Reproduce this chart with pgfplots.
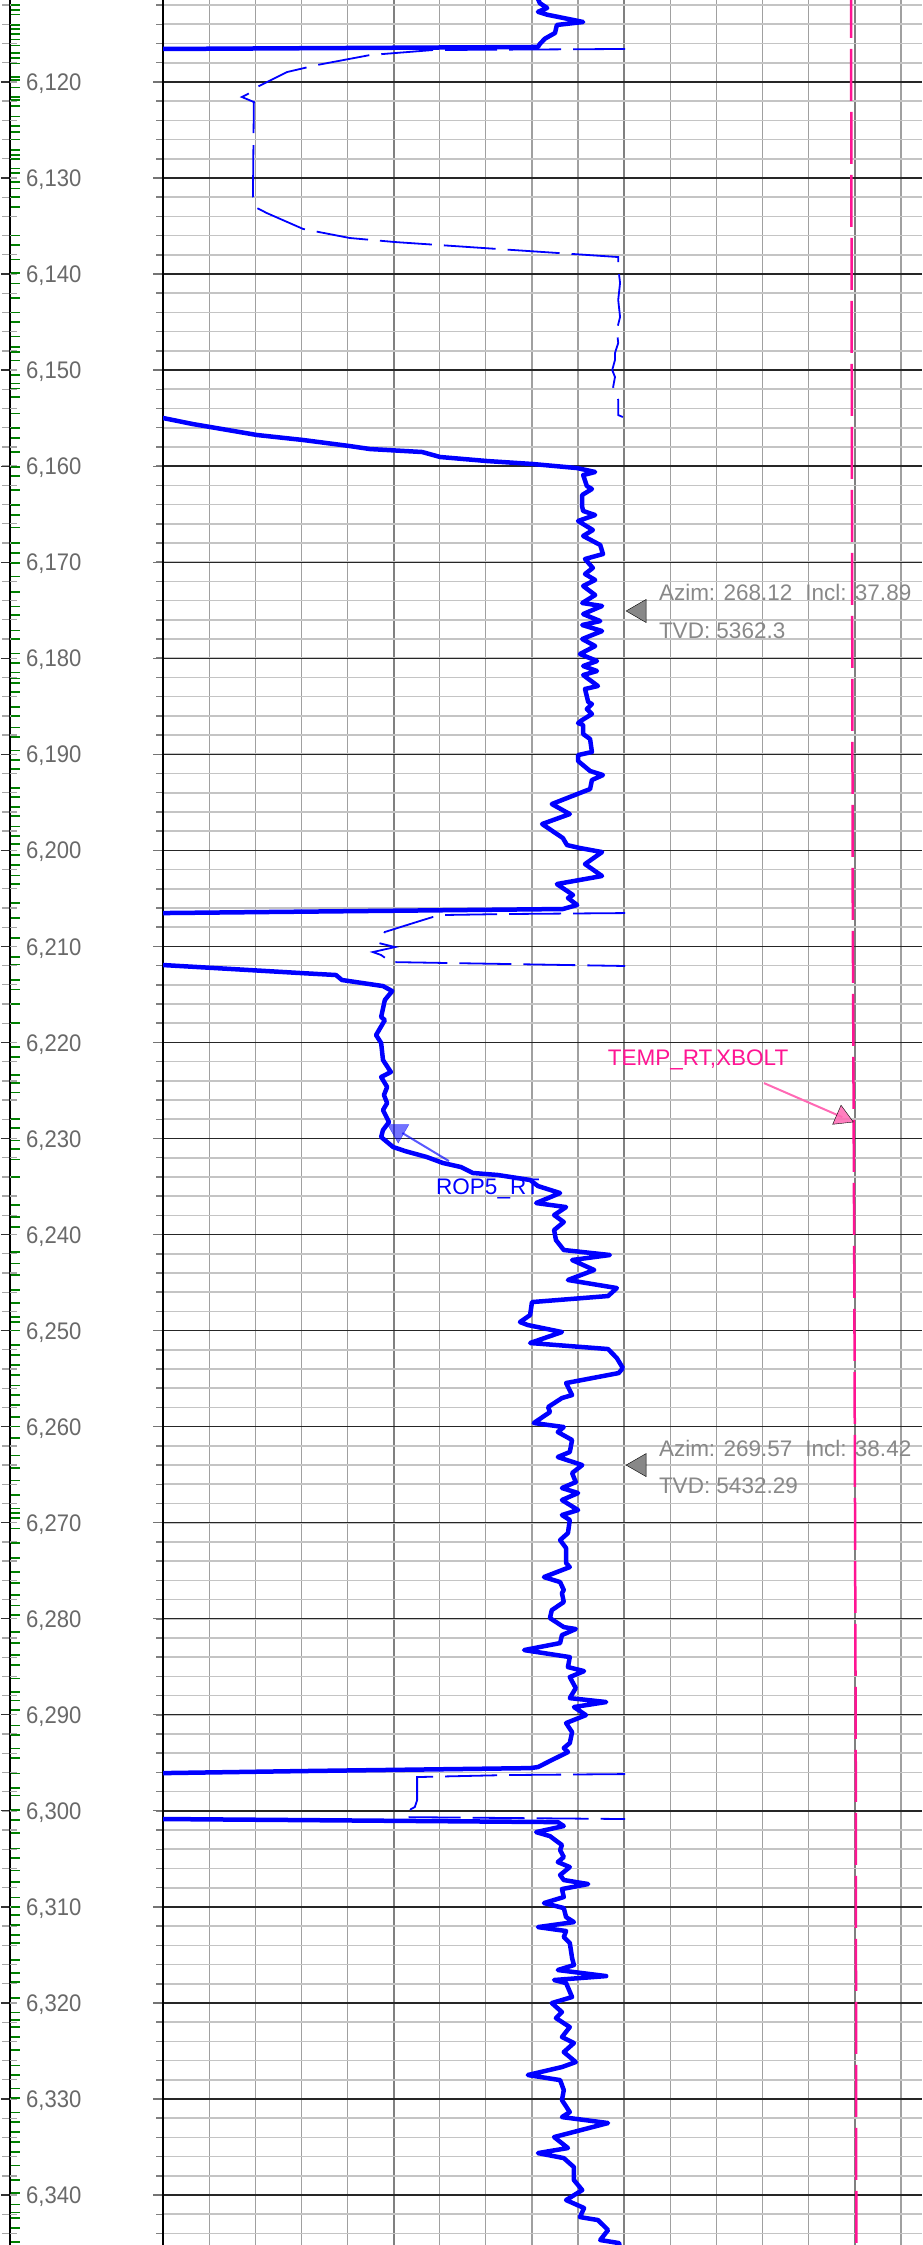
\documentclass[border=0pt]{standalone}
\usepackage{fontspec}
\setmainfont{Liberation Sans}
\newfontfamily\narrowfont[FakeStretch=0.92]{Liberation Sans}
\usepackage{pgfplots}
\pgfplotsset{compat=1.18}
\definecolor{logblue}{RGB}{0,0,255}
\definecolor{logpink}{RGB}{255,20,147}
\definecolor{lightpink}{RGB}{255,105,180}
\definecolor{annogray}{RGB}{136,136,136}
\definecolor{labelgray}{RGB}{105,105,105}
\definecolor{tickgreen}{RGB}{0,128,0}
\definecolor{minorh}{RGB}{196,196,196}
\definecolor{minorv}{RGB}{160,160,160}
\definecolor{majorv}{RGB}{128,128,128}
\pgfplotsset{
  logaxis/.style={scale only axis, height=2245pt, ymin=6111.47, ymax=6345.20,
    y dir=reverse, anchor=south west, scaled y ticks=false},
}
\newcommand{\annofont}{\fontsize{22.5}{27}\selectfont}
\begin{document}
\begin{tikzpicture}
\useasboundingbox (0,0) rectangle (922pt,2245pt);

% ---------- depth column: outer ticks and line ----------
\begin{axis}[logaxis, at={(10pt,0pt)}, width=153pt, xmin=0, xmax=1,
  axis x line=none, axis y line=left,
  y axis line style={black, line width=1.5pt, -},
  tick align=outside,
  ytick={6120,6130,...,6340}, minor ytick={6112,6114,...,6344}, yticklabels={},
  major tick length=9pt, minor tick length=8pt,
  major tick style={black!80, line width=1.2pt},
  minor tick style={black!35, line width=1.3pt}]
\end{axis}

% ---------- depth column: inner ticks and green data ticks ----------
\begin{axis}[logaxis, at={(10pt,0pt)}, width=153pt, xmin=10, xmax=163,
  axis x line=none, axis y line=left,
  y axis line style={draw=none},
  tick align=inside, clip=false,
  ytick={6112,6114,...,6344}, yticklabels={},
  major tick length=7pt,
  major tick style={black!35, line width=1.3pt}]
\addplot[only marks, mark=-, mark size=4.5pt, mark options={tickgreen, line width=1.6pt}]
  table[x expr=15.5, y index=0] {
d
6112.0
6112.5
6113.0
6114.1
6114.5
6115.0
6115.6
6116.2
6117.0
6117.5
6118.1
6119.5
6119.8
6120.6
6121.6
6121.9
6122.5
6123.6
6124.6
6125.2
6126.0
6127.1
6127.6
6128.0
6129.0
6129.5
6130.4
6131.1
6132.0
6133.0
6136.0
6137.0
6138.5
6139.9
6141.0
6142.5
6144.0
6145.0
6146.5
6147.6
6148.1
6149.0
6150.5
6151.4
6151.9
6152.8
6154.5
6156.0
6157.1
6158.5
6160.1
6161.0
6162.5
6164.05
6165.1
6166.4
6168.0
6169.05
6170.1
6171.5
6173.1
6174.6
6175.5
6177.1
6178.0
6179.5
6180.5
6181.5
6182.1
6182.6
6183.5
6185.1
6186.0
6187.2
6188.2
6189.6
6190.6
6191.5
6193.5
6194.45
6195.5
6196.4
6197.5
6198.5
6199.35
6200.5
6201.5
6202.6
6203.5
6205.5
6207.05
6209.1
6211.1
6211.9
6213.5
6214.5
6216.0
6218.0
6220.5
6221.5
6223.4
6224.2
6225.2
6228.0
6228.9
6230.2
6231.1
6232.2
6234.0
6236.9
6238.2
6239.2
6241.8
6243.0
6244.2
6245.8
6247.1
6248.6
6249.1
6250.0
6251.5
6252.55
6253.6
6254.6
6255.7
6256.7
6257.75
6259.0
6260.0
6261.2
6263.0
6264.3
6265.6
6267.1
6268.5
6269.0
6269.5
6270.6
6272.1
6273.7
6275.1
6276.3
6277.5
6278.6
6279.6
6281.4
6282.5
6283.8
6284.8
6286.2
6287.6
6288.5
6289.5
6291.1
6292.1
6293.5
6294.5
6296.1
6297.6
6298.4
6299.9
6300.95
6302.3
6303.9
6304.9
6306.2
6307.4
6309.0
6310.0
6310.85
6311.9
6312.9
6313.75
6315.5
6316.9
6317.8
6319.5
6321.0
6321.8
6322.5
6323.55
6324.9
6326.5
6327.5
6328.9
6329.9
6331.4
6332.4
6333.45
6334.5
6335.5
6336.9
6338.4
6339.8
6341.0
6341.8
6342.4
6343.4
6344.9
};
\end{axis}

% ---------- depth column: labels ----------
\begin{axis}[logaxis, at={(10pt,0pt)}, width=16pt, xmin=0, xmax=1,
  axis line style={draw=none}, xtick=\empty,
  ytick={6120,6130,...,6340},
  yticklabels={{6,120},{6,130},{6,140},{6,150},{6,160},{6,170},{6,180},{6,190},{6,200},{6,210},{6,220},{6,230},{6,240},{6,250},{6,260},{6,270},{6,280},{6,290},{6,300},{6,310},{6,320},{6,330},{6,340}},
  yticklabel pos=right, ytick style={draw=none}, major tick length=0pt,
  yticklabel style={anchor=base west, inner sep=0pt, yshift=-8.6pt,
    font=\narrowfont\fontsize{24}{28}\selectfont, text=labelgray}]
\end{axis}

% ---------- main track ----------
\begin{axis}[logaxis, at={(163pt,0pt)}, width=759pt, xmin=0, xmax=164.57,
  axis line style={draw=none},
  xtick={0,50,100,150}, minor xtick={0,10,...,160}, xticklabels={},
  xtick style={draw=none},
  ytick={6120,6130,...,6340}, minor ytick={6112,6114,...,6344}, yticklabels={},
  ytick pos=left, tick align=outside,
  major tick length=10pt, minor tick length=7pt,
  major tick style={black!55, line width=1.2pt},
  minor tick style={black!50, line width=1.5pt},
  grid=both,
  major x grid style={majorv, line width=1.8pt},
  minor x grid style={minorv, line width=1.2pt},
  major y grid style={black!85, line width=1.3pt},
  minor y grid style={minorh, line width=1.6pt},
  extra x ticks={0}, extra x tick labels={},
  extra x tick style={major x grid style={black, line width=1.8pt}},
]
% ROP5_RT, thick
\addplot[logblue, line width=4.5pt, line join=round] coordinates {
(81.0,6111.0) (81.7,6111.8) (83.3,6112.3) (81.3,6112.7) (83.3,6113.0) (91.1,6113.76)
(85.4,6114.07) (85.0,6114.9) (82.8,6115.5) (81.7,6116.05) (81.3,6116.36) (0,6116.57) (-10,6116.6)};
\addplot[logblue, line width=4.5pt, line join=round] coordinates {
(-10,6154.8) (0,6154.99) (6.5,6155.62) (20.4,6156.76) (30.4,6157.28) (40.5,6157.91) (44.9,6158.22)
(56.2,6158.53) (60.1,6159.05) (70.3,6159.47) (80.2,6159.78) (89.8,6160.2) (93.7,6160.61)
(91.1,6160.93) (91.9,6162.07) (93.0,6162.38) (90.9,6163.0) (90.9,6164.26) (91.1,6164.67)
(93.7,6165.09) (90.0,6165.71) (93.2,6166.65) (91.1,6167.27) (94.8,6168.21) (95.4,6169.15)
(91.5,6169.67) (93.2,6170.6) (91.5,6171.23) (93.7,6171.85) (91.1,6172.48) (93.7,6173.42)
(90.9,6174.25) (95.2,6174.56) (91.1,6175.4) (94.8,6176.13) (90.9,6176.54) (95.2,6177.17)
(90.9,6178.0) (93.7,6178.73) (90.4,6179.56) (94.1,6180.29) (91.1,6180.81) (94.1,6181.33)
(91.1,6181.75) (94.3,6182.89) (91.5,6183.2) (92.2,6184.56) (93.0,6184.77) (91.9,6185.29)
(93.0,6185.81) (90.9,6186.43) (90.0,6186.75) (91.1,6186.95) (91.1,6187.89) (92.6,6188.41)
(93.0,6189.76) (90.0,6190.08) (90.0,6190.7) (92.6,6191.74) (95.4,6192.16) (93.0,6192.68)
(92.6,6193.62) (90.4,6194.03) (84.3,6195.18) (88.2,6196.22) (82.2,6197.26) (86.7,6198.72)
(87.6,6199.45) (90.4,6199.76) (95.2,6200.18) (91.5,6201.43) (95.2,6202.67) (85.4,6203.51)
(88.9,6204.65) (87.8,6204.96) (89.8,6205.69) (86.7,6206.11) (0,6206.53) (-10,6206.55)};
\addplot[logblue, line width=4.5pt, line join=round] coordinates {
(-10,6211.9) (0,6211.94) (29.7,6212.77) (37.5,6212.98) (38.8,6213.5) (47.7,6214.13) (49.7,6214.65)
(48.1,6215.58) (47.3,6217.35) (48.1,6217.67) (46.2,6219.23) (47.3,6220.06) (47.7,6221.83)
(49.4,6223.08) (47.3,6223.6) (48.6,6224.64) (47.9,6225.47) (48.6,6226.31) (47.7,6227.04)
(49.0,6228.29) (47.7,6229.12) (47.3,6229.85) (49.9,6230.89) (52.5,6231.31) (57.2,6231.93)
(60.7,6232.55) (64.6,6232.97) (67.2,6233.59) (72.6,6233.8) (79.6,6234.32) (81.3,6234.95)
(86.1,6235.68) (80.9,6236.72) (87.4,6237.14) (84.8,6237.97) (86.9,6238.7) (84.8,6239.53)
(85.2,6240.57) (86.9,6241.61) (96.9,6242.13) (88.7,6242.65) (93.5,6243.69) (87.8,6244.73)
(98.4,6245.57) (96.5,6246.4) (80.0,6247.03) (79.6,6248.38) (77.4,6249.11) (79.1,6249.42)
(86.5,6250.15) (79.6,6251.29) (96.5,6251.92) (98.4,6252.86) (99.7,6253.9) (98.8,6254.42)
(87.4,6255.46) (88.7,6256.71) (86.5,6257.02) (83.5,6257.96) (83.9,6258.48) (80.4,6259.62)
(86.9,6260.04) (85.6,6260.56) (88.7,6261.39) (88.2,6262.64) (85.6,6263.16) (90.9,6264.0)
(88.7,6264.83) (89.5,6265.77) (86.5,6266.39) (90.0,6266.91) (86.5,6267.64) (90.0,6268.68)
(86.5,6269.2) (88.2,6269.72) (87.8,6271.08) (86.1,6271.81) (87.4,6272.64) (87.4,6274.2)
(88.2,6274.62) (82.6,6275.66) (86.1,6276.18) (86.9,6277.01) (86.5,6277.33) (86.9,6278.26)
(84.3,6279.1) (83.9,6279.93) (86.9,6280.87) (89.5,6281.07) (86.5,6281.7) (86.1,6282.53)
(78.3,6283.26) (88.2,6283.99) (87.8,6285.03) (91.3,6285.45) (88.2,6286.07) (89.5,6287.22)
(88.2,6288.26) (96.1,6288.67) (89.1,6289.19) (91.7,6290.03) (87.4,6290.86) (88.7,6291.8)
(88.2,6292.94) (86.9,6293.46) (87.8,6293.88) (84.3,6294.71) (81.3,6295.44) (79.6,6295.55)
(29.7,6295.86) (0,6296.07) (-10,6296.1)};
\addplot[logblue, line width=4.5pt, line join=round] coordinates {
(-10,6300.9) (0,6300.85) (29.7,6300.96) (85.6,6301.17) (86.9,6301.58) (80.9,6302.21) (83.9,6302.63)
(86.5,6303.56) (86.1,6304.08) (86.9,6304.81) (85.6,6305.33) (88.2,6305.85) (86.1,6306.68)
(86.9,6307.2) (92.2,6307.62) (86.5,6308.14) (86.9,6308.97) (82.6,6309.6) (86.9,6310.12)
(87.4,6311.06) (89.1,6311.58) (81.3,6312.1) (87.4,6312.51) (86.9,6313.14) (88.2,6313.76)
(88.7,6315.32) (89.1,6316.05) (85.6,6316.57) (96.1,6317.2) (84.8,6317.61) (87.4,6317.93)
(88.7,6319.38) (84.3,6320.01) (86.5,6320.95) (85.2,6321.57) (88.2,6322.51) (86.5,6323.55)
(89.1,6324.17) (86.9,6325.11) (89.5,6326.15) (86.5,6326.67) (79.1,6327.5) (86.1,6328.03)
(86.9,6329.07) (86.5,6330.11) (88.2,6331.36) (86.5,6331.88) (96.5,6332.5) (84.8,6333.96)
(87.8,6335.1) (81.3,6335.63) (86.9,6336.15) (89.1,6337.09) (89.1,6338.44) (90.9,6339.48)
(87.4,6340.52) (91.3,6341.35) (90.4,6342.29) (94.3,6342.6) (96.5,6343.64) (94.8,6344.68)
(98.9,6345.0) (99.1,6345.7)};
% wrapped curve, thin dashed
\addplot[logblue, line width=1.8pt, dash pattern=on 52pt off 12pt] coordinates {
(100.2,6116.57) (58.5,6116.68) (44.9,6117.2) (33.4,6118.24) (26.9,6118.97) (20.4,6120.53)
(18.4,6121.26) (17.1,6121.57) (19.7,6122.09) (19.5,6131.98) (20.4,6133.13) (22.5,6133.65)
(30.4,6135.31) (40.5,6136.25) (50.3,6136.67) (69.4,6137.29) (98.7,6138.23) (98.7,6139.27)
(99.1,6140.93) (98.7,6142.7) (99.1,6144.47) (98.4,6145.83) (98.7,6147.18) (98.0,6148.22)
(98.0,6148.95) (97.4,6149.99) (98.0,6150.72) (97.6,6151.76) (98.7,6153.1) (98.7,6154.68)
(99.7,6154.89)};
\addplot[logblue, line width=1.8pt, dash pattern=on 52pt off 12pt] coordinates {
(100.2,6206.53) (74.4,6206.63) (61.1,6206.73) (58.5,6206.94) (56.4,6207.25) (48.1,6208.5)
(46.8,6209.65) (50.3,6210.07) (45.5,6210.59) (47.3,6210.9) (49.4,6211.63) (100.2,6212.04)};
\addplot[logblue, line width=1.8pt, dash pattern=on 52pt off 12pt] coordinates {
(100.2,6296.17) (74.8,6296.27) (55.1,6296.48) (55.1,6298.87) (54.6,6299.6) (53.8,6299.81)
(52.5,6300.65) (100.2,6300.85)};
% TEMP_RT,XBOLT
\addplot[logpink, line width=2.5pt, dash pattern=on 52pt off 11pt] coordinates {
(149.18,6110.0) (149.55,6205.2) (149.91,6246.8) (150.2,6293.7) (150.33,6346.0)};

% survey annotations
\addplot[only marks, mark=triangle*, mark size=13.3pt,
  mark options={rotate=90, fill=annogray, draw=none}] coordinates {(103.3,6175.08) (103.3,6264.0)};
\node[anchor=base west, inner sep=0pt, text=annogray, font=\annofont] at (axis cs:107.5,6173.94) {Azim: 268.12\hspace{13pt}Incl: 37.89};
\node[anchor=base west, inner sep=0pt, text=annogray, font=\annofont] at (axis cs:107.5,6177.9) {TVD: 5362.3};
\node[anchor=base west, inner sep=0pt, text=annogray, font=\annofont] at (axis cs:107.5,6263.06) {Azim: 269.57\hspace{13pt}Incl: 38.42};
\node[anchor=base west, inner sep=0pt, text=annogray, font=\annofont] at (axis cs:107.5,6266.91) {TVD: 5432.29};

% ROP5_RT callout
\addplot[logblue, opacity=0.65, line width=2pt] coordinates {(62.0,6232.35) (51.9,6229.43)};
\addplot[only marks, mark=triangle*, mark size=12.3pt,
  mark options={rotate=180, fill=logblue, fill opacity=0.55, draw=logblue, draw opacity=0.6}] coordinates {(51.0,6229.19)};
\node[anchor=base west, inner sep=0pt, text=logblue, font=\annofont] at (axis cs:59.2,6235.88) {ROP5\_RT};

% TEMP callout
\addplot[lightpink, line width=2pt] coordinates {(130.3,6224.23) (147.3,6227.78)};
\addplot[only marks, mark=triangle*, mark size=12pt,
  mark options={rotate=-113.7, fill=lightpink, fill opacity=0.85, draw=none}] coordinates {(147.3,6227.78)};
\node[anchor=base west, inner sep=0pt, text=logpink, font=\annofont] at (axis cs:96.4,6222.45) {TEMP\_RT,XBOLT};
\end{axis}
\end{tikzpicture}
\end{document}
